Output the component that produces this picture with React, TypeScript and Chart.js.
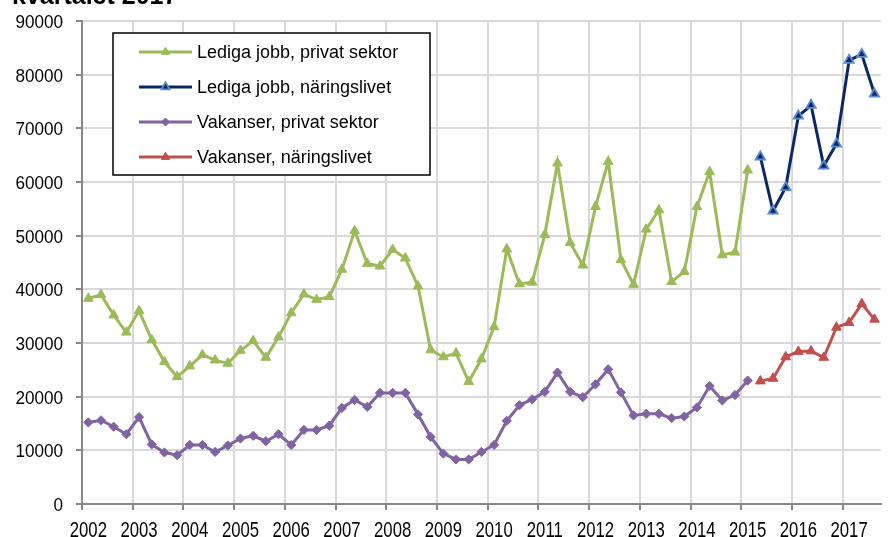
import React, { useEffect, useRef } from "react";
import { Chart, registerables } from "chart.js";

Chart.register(...registerables);

const years = [2002, 2003, 2004, 2005, 2006, 2007, 2008, 2009, 2010, 2011, 2012, 2013, 2014, 2015, 2016, 2017];
const quarters = ["K1", "K2", "K3", "K4"];
const lastYearQuarters = 3;

const ledigaPrivat = [
  38300, 39000, 35200, 32000, 36000, 30600, 26500, 23700, 25700, 27800, 26800, 26200,
  28600, 30400, 27300, 31100, 35600, 39100, 38100, 38600, 43700, 50900, 44800, 44300,
  47400, 45800, 40600, 28700, 27400, 28100, 22800, 27000, 33000, 47500, 41000, 41300,
  50200, 63500, 48700, 44500, 55400, 63800, 45500, 40900, 51200, 54800, 41400, 43300,
  55400, 61900, 46400, 46900, 62200,
];
const ledigaNaringsliv = [64700, 54600, 59000, 72300, 74300, 63000, 67100, 82700, 83800, 76400];
const vakanserPrivat = [
  15200, 15600, 14400, 13000, 16200, 11100, 9600, 9100, 11000, 11000, 9700, 10900,
  12200, 12700, 11700, 13000, 11000, 13800, 13800, 14600, 17900, 19400, 18100, 20700,
  20700, 20700, 16700, 12500, 9400, 8300, 8300, 9700, 11000, 15500, 18400, 19500,
  20900, 24500, 20900, 19900, 22300, 25100, 20800, 16500, 16800, 16800, 16000, 16300,
  18000, 22000, 19300, 20300, 23000,
];
const vakanserNaringsliv = [22900, 23400, 27400, 28400, 28500, 27300, 32900, 33800, 37300, 34400];

const seriesNames = [
  "Lediga jobb, privat sektor",
  "Lediga jobb, näringslivet",
  "Vakanser, privat sektor",
  "Vakanser, näringslivet",
];
const titleText = "kvartalet 2017";
const yTicks = [0, 10000, 20000, 30000, 40000, 50000, 60000, 70000, 80000, 90000];

const labels: string[] = [];
years.forEach((y, yi) => {
  const n = yi === years.length - 1 ? lastYearQuarters : 4;
  for (let q = 0; q < n; q++) labels.push(`${y} ${quarters[q]}`);
});
const N = labels.length;

function pad(values: number[], start: number): (number | null)[] {
  const out: (number | null)[] = new Array(N).fill(null);
  values.forEach((v, i) => (out[start + i] = v));
  return out;
}

const styles = [
  { line: "#9BBB59", fill: "#9BBB59", stroke: "#9BBB59", shape: "triangle", r: 5.6, bw: 1 },
  { line: "#0B2866", fill: "#0B2866", stroke: "#5A8ACB", shape: "triangle", r: 5.4, bw: 1.8 },
  { line: "#8064A2", fill: "#8064A2", stroke: "#8064A2", shape: "rectRot", r: 4.6, bw: 1 },
  { line: "#C0504D", fill: "#C0504D", stroke: "#C0504D", shape: "triangle", r: 5.6, bw: 1 },
];

const FONT = "'Liberation Sans', Arial, sans-serif";

function drawMarker(ctx: CanvasRenderingContext2D, shape: string, x: number, y: number, r: number, fill: string, stroke: string, lw: number) {
  ctx.beginPath();
  if (shape === "triangle") {
    for (let k = 0; k < 3; k++) {
      const a = (k * 2 * Math.PI) / 3;
      const px = x + Math.sin(a) * r;
      const py = y - Math.cos(a) * r;
      if (k === 0) ctx.moveTo(px, py);
      else ctx.lineTo(px, py);
    }
  } else {
    ctx.moveTo(x, y - r);
    ctx.lineTo(x + r, y);
    ctx.lineTo(x, y + r);
    ctx.lineTo(x - r, y);
  }
  ctx.closePath();
  ctx.fillStyle = fill;
  ctx.fill();
  ctx.lineWidth = lw;
  ctx.strokeStyle = stroke;
  ctx.stroke();
}

function drawScaledText(ctx: CanvasRenderingContext2D, text: string, x: number, y: number, sx: number, align: CanvasTextAlign, baseline: CanvasTextBaseline) {
  ctx.save();
  ctx.translate(x, y);
  ctx.scale(sx, 1);
  ctx.textAlign = align;
  ctx.textBaseline = baseline;
  ctx.fillText(text, 0, 0);
  ctx.restore();
}

const overlayPlugin = {
  id: "overlay",
  afterDraw(chart: any) {
    const ctx: CanvasRenderingContext2D = chart.ctx;
    ctx.save();
    ctx.fillStyle = "#000";
    const xs = chart.scales.x;
    const ys = chart.scales.y;
    ctx.font = `22px ${FONT}`;
    years.forEach((yr, i) => {
      const px = xs.getPixelForValue(i * 4);
      drawScaledText(ctx, String(yr), px, 536.5, 0.76, "center", "alphabetic");
    });
    ctx.font = `19px ${FONT}`;
    yTicks.forEach((v) => {
      const py = ys.getPixelForValue(v);
      drawScaledText(ctx, String(v), 63, py + 7, 0.9, "right", "alphabetic");
    });
    ctx.font = `bold 25px ${FONT}`;
    ctx.textBaseline = "alphabetic";
    ctx.textAlign = "left";
    ctx.fillText(titleText, 12, 4);
    const bx = 113, by = 33, bw = 317, bh = 142;
    ctx.fillStyle = "#fff";
    ctx.fillRect(bx, by, bw, bh);
    ctx.lineWidth = 1.5;
    ctx.strokeStyle = "#000";
    ctx.strokeRect(bx, by, bw, bh);
    ctx.font = `18px ${FONT}`;
    ctx.textBaseline = "middle";
    seriesNames.forEach((name, i) => {
      const s = styles[i];
      const yy = 52 + i * 35;
      ctx.beginPath();
      ctx.moveTo(139, yy);
      ctx.lineTo(192, yy);
      ctx.lineWidth = 3;
      ctx.strokeStyle = s.line;
      ctx.stroke();
      drawMarker(ctx, s.shape, 165.5, yy, s.shape === "triangle" ? 4.8 : 4, s.fill, s.stroke, s.bw);
      ctx.fillStyle = "#000";
      ctx.fillText(name, 197, yy + 1);
    });
    ctx.restore();
  },
};

export default function App() {
  const ref = useRef<HTMLCanvasElement>(null);
  useEffect(() => {
    document.body.style.margin = "0";
    const datasets = [
      pad(ledigaPrivat, 0),
      pad(ledigaNaringsliv, ledigaPrivat.length),
      pad(vakanserPrivat, 0),
      pad(vakanserNaringsliv, vakanserPrivat.length),
    ].map((data, i) => ({
      label: seriesNames[i],
      data,
      borderColor: styles[i].line,
      backgroundColor: styles[i].fill,
      borderWidth: 3,
      tension: 0,
      pointStyle: styles[i].shape,
      pointRadius: styles[i].r,
      pointBackgroundColor: styles[i].fill,
      pointBorderColor: styles[i].stroke,
      pointBorderWidth: styles[i].bw,
      spanGaps: false,
    }));
    const chart = new Chart(ref.current!, {
      type: "line",
      data: { labels, datasets },
      plugins: [overlayPlugin],
      options: {
        animation: false,
        responsive: false,
        devicePixelRatio: 1,
        layout: { padding: { top: 21, right: 3, left: 0, bottom: 0 } },
        plugins: { legend: { display: false }, tooltip: { enabled: false }, title: { display: false } },
        scales: {
          x: {
            type: "category",
            offset: true,
            afterFit: (s: any) => { s.height = 33; },
            grid: {
              offset: true,
              lineWidth: 2,
              tickLength: 6,
              color: (c: any) => (c.index !== undefined && c.index % 4 === 0 ? "#d9d9d9" : "rgba(0,0,0,0)"),
              tickColor: (c: any) => (c.index !== undefined && c.index % 4 === 0 ? "#888888" : "rgba(0,0,0,0)"),
            },
            border: { color: "#888888", width: 2 },
            ticks: {
              autoSkip: false,
              maxRotation: 0,
              minRotation: 0,
              color: "rgba(0,0,0,0)",
              font: { family: FONT, size: 12 },
              callback: (_v: any, i: number) => (i % 4 === 0 ? String(years[i / 4]) : ""),
            },
          },
          y: {
            min: 0,
            max: 90000,
            afterFit: (s: any) => { s.width = 82; },
            afterBuildTicks: (s: any) => { s.ticks = yTicks.map((v) => ({ value: v })); },
            grid: { color: "#d9d9d9", lineWidth: 2, tickLength: 6, tickColor: "#888888" },
            border: { color: "#888888", width: 2 },
            ticks: { color: "rgba(0,0,0,0)", font: { family: FONT, size: 12 }, callback: (v: any) => String(v) },
          },
        },
      },
    } as any);
    return () => chart.destroy();
  }, []);
  return (
    <div style={{ width: 888, height: 537, position: "relative", background: "#fff" }}>
      <canvas ref={ref} width={888} height={537} />
    </div>
  );
}
